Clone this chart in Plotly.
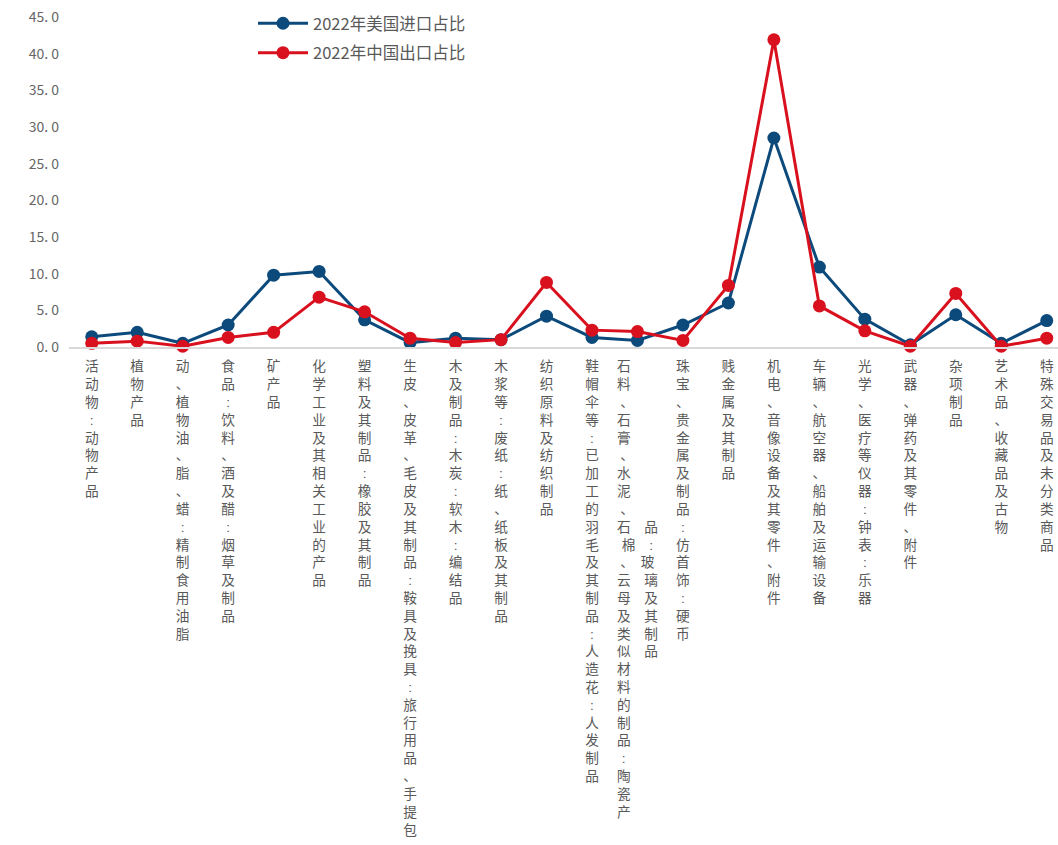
import plotly.graph_objects as go

# ---------------- data ----------------
CATEGORIES = [
    "活动物:动物产品",
    "植物产品",
    "动、植物油、脂、蜡:精制食用油脂",
    "食品:饮料、酒及醋:烟草及制品",
    "矿产品",
    "化学工业及其相关工业的产品",
    "塑料及其制品:橡胶及其制品",
    "生皮、皮革、毛皮及其制品:鞍具及挽具:旅行用品、手提包",
    "木及制品:木炭:软木:编结品",
    "木浆等:废纸:纸、纸板及其制品",
    "纺织原料及纺织制品",
    "鞋帽伞等:已加工的羽毛及其制品:人造花:人发制品",
    "石料、石膏、水泥、石棉、云母及类似材料的制品:陶瓷产品:玻璃及其制品",
    "珠宝、贵金属及制品:仿首饰:硬币",
    "贱金属及其制品",
    "机电、音像设备及其零件、附件",
    "车辆、航空器、船舶及运输设备",
    "光学、医疗等仪器:钟表:乐器",
    "武器、弹药及其零件、附件",
    "杂项制品",
    "艺术品、收藏品及古物",
    "特殊交易品及未分类商品",
]

US_IMPORT_SHARE = [1.4, 2.0, 0.5, 3.0, 9.8, 10.3, 3.7, 0.6, 1.2, 1.0, 4.2,
                   1.3, 0.9, 3.0, 6.0, 28.5, 10.9, 3.8, 0.3, 4.4, 0.5, 3.6]
CN_EXPORT_SHARE = [0.5, 0.8, 0.1, 1.3, 2.0, 6.8, 4.8, 1.2, 0.6, 1.0, 8.8,
                   2.3, 2.1, 0.9, 8.4, 41.9, 5.6, 2.2, 0.1, 7.3, 0.1, 1.2]

SERIES_NAMES = ["2022年美国进口占比", "2022年中国出口占比"]

Y_TICK_VALUES = [0, 5, 10, 15, 20, 25, 30, 35, 40, 45]
Y_TICK_LABELS = ["0. 0", "5. 0", "10. 0", "15. 0", "20. 0", "25. 0",
                 "30. 0", "35. 0", "40. 0", "45. 0"]

# label that the original wraps into a second (vertical) column
SECOND_COLUMN_BREAK = {"石料、石膏、水泥、石棉、云母及类似材料的制品:陶瓷产品:玻璃及其制品": "石料、石膏、水泥、石棉、云母及类似材料的制品:陶瓷产"}

# ---------------- styling ----------------
BLUE = "#0d4a7c"
RED = "#d9101e"
GRAY_TEXT = "#595959"
FONT = "Noto Sans CJK SC, Noto Sans, sans-serif"
# Latin primary font keeps each stacked line's box compact; CJK glyphs fall back to Noto CJK
LABEL_FONT = "Liberation Sans, Noto Sans CJK SC, sans-serif"
W, H = 1058, 845
ML, MT, MB = 69, 17, 498
PW, PH = W - ML, H - MT - MB


def vertical_label(text):
    """Stack characters one per line to imitate vertical writing."""
    if text in SECOND_COLUMN_BREAK:
        c1 = SECOND_COLUMN_BREAK[text]
        c2 = text[len(c1):]
        start = (len(c1) - len(c2)) // 2
        lines = []
        for i, ch in enumerate(c1):
            j = i - start
            ch2 = c2[j] if 0 <= j < len(c2) else "\u3000"
            lines.append(ch + "\u3000" + ch2)
        return "<br>".join(lines)
    return "<br>".join(list(text))


tick_text = [vertical_label(c) for c in CATEGORIES]

fig = go.Figure()
for name, vals, color, grp in [(SERIES_NAMES[0], US_IMPORT_SHARE, BLUE, "a"),
                               (SERIES_NAMES[1], CN_EXPORT_SHARE, RED, "b")]:
    fig.add_trace(go.Scatter(
        x=CATEGORIES, y=vals, name=name, mode="lines+markers",
        line=dict(color=color, width=3),
        marker=dict(color=color, size=13),
        cliponaxis=False, legendgroup=grp,
    ))

n = len(CATEGORIES)
fig.update_layout(
    width=W, height=H,
    margin=dict(l=ML, r=0, t=MT, b=MB, autoexpand=False),
    plot_bgcolor="white", paper_bgcolor="white",
    font=dict(family=FONT, color=GRAY_TEXT),
    showlegend=True,
    legend=dict(
        x=(253 - ML) / PW, y=1 + (MT - 6) / PH, xanchor="left", yanchor="top",
        font=dict(size=16.5, color=GRAY_TEXT, family=FONT),
        bgcolor="rgba(255,255,255,0)",
        itemwidth=50, tracegroupgap=5, traceorder="grouped",
    ),
    xaxis=dict(
        type="category",
        range=[-0.5, -0.5 + PW / ((1047 - 92) / (n - 1))],
        tickmode="array", tickvals=CATEGORIES, ticktext=tick_text,
        tickangle=0, tickfont=dict(size=13.7, color=GRAY_TEXT, family=LABEL_FONT),
        showline=True, linecolor="#d9d9d9", linewidth=2,
        showgrid=False, zeroline=False, ticks="", ticklabelstandoff=6,
        automargin=False,
    ),
    yaxis=dict(
        range=[0, 45], tickmode="array", tickvals=Y_TICK_VALUES,
        ticktext=Y_TICK_LABELS,
        tickfont=dict(size=14, color="#666666", family=FONT),
        showline=False, showgrid=False, zeroline=False, ticks="",
        ticklabelstandoff=9, automargin=False,
    ),
)

fig.write_html("out.html")
